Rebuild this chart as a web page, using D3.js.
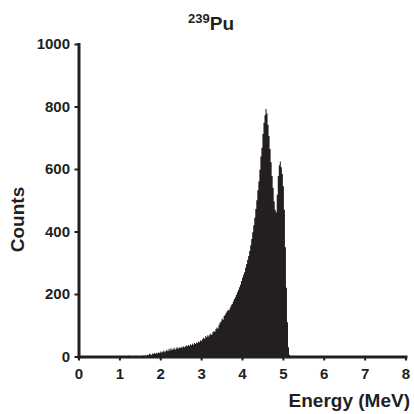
<!DOCTYPE html>
<html>
<head>
<meta charset="utf-8">
<script src="https://cdn.jsdelivr.net/npm/d3@7"></script>
<style>
  body { margin: 0; background: #fff; }
  svg { display: block; font-family: "Liberation Sans", Arial, sans-serif; }
  .axis text { font-size: 15px; font-weight: bold; fill: #231f20; }
  .axis path, .axis line { stroke: #231f20; }
</style>
</head>
<body>
<div id="chart"></div>
<script>
// histogram of alpha energies, bins 0.025 MeV wide starting at binStart
var binStart = 1.2;
var binWidth = 0.025;
var counts = [
  0, 3, 2, 0, 0, 1, 0, 0, 2, 0, 1, 0,
  0, 2, 0, 3, 1, 4, 2, 6, 4, 9, 7, 5,
  10, 8, 11, 9, 12, 10, 14, 11, 16, 13, 15, 19,
  14, 18, 22, 17, 24, 19, 27, 21, 23, 28, 22, 26,
  30, 25, 29, 27, 31, 28, 33, 30, 32, 35, 33, 37,
  34, 39, 36, 41, 38, 43, 40, 45, 43, 48, 46, 52,
  50, 56, 60, 57, 66, 62, 68, 64, 70, 73, 69, 78,
  82, 79, 88, 93, 90, 101, 108, 112, 122, 118, 130, 134,
  140, 145, 150, 148, 157, 164, 168, 176, 184, 190, 197, 206,
  213, 222, 230, 242, 252, 262, 270, 284, 296, 310, 322, 338,
  356, 376, 398, 420, 444, 472, 500, 532, 560, 598, 640, 668,
  712, 748, 772, 792, 778, 742, 706, 664, 622, 578, 540, 496,
  470, 462, 518, 578, 612, 624, 606, 584, 545, 470, 350, 220,
  110, 30, 6
];
var xTicks = [0, 1, 2, 3, 4, 5, 6, 7, 8];
var yTicks = [0, 200, 400, 600, 800, 1000];

var svgWidth = 414;
var svgHeight = 414;
var margin = { top: 44, right: 8.5, bottom: 57.5, left: 78.5 };
var width = svgWidth - margin.left - margin.right;
var height = svgHeight - margin.top - margin.bottom;

var svg = d3.select("#chart")
    .append("svg")
    .attr("width", svgWidth)
    .attr("height", svgHeight);

var chartGroup = svg.append("g")
    .attr("transform", `translate(${margin.left},${margin.top})`);

var xScale = d3.scaleLinear().domain([0, 8]).range([0, width]);
var yScale = d3.scaleLinear().domain([0, 1000]).range([height, 0]);

// step points: each bin start, plus a closing point at the last bin's end
var steps = counts.map(function(c, i) {
    return { x: binStart + i * binWidth, count: c };
});
steps.push({ x: binStart + counts.length * binWidth, count: 0 });

var histArea = d3.area()
    .curve(d3.curveStepAfter)
    .x(d => xScale(d.x))
    .y0(yScale(0))
    .y1(d => yScale(d.count));

chartGroup.append("path")
    .datum(steps)
    .attr("d", histArea)
    .attr("fill", "#231f20");

var xAxis = chartGroup.append("g")
    .classed("axis", true)
    .attr("transform", `translate(0,${height})`)
    .call(d3.axisBottom(xScale).tickValues(xTicks).tickSize(4).tickSizeOuter(0).tickPadding(8));

var yAxis = chartGroup.append("g")
    .classed("axis", true)
    .call(d3.axisLeft(yScale).tickValues(yTicks).tickFormat(d3.format("d"))
        .tickSize(4).tickSizeOuter(0).tickPadding(4.5));

chartGroup.selectAll(".axis .domain").attr("stroke-width", 3).attr("stroke-linecap", "square");
chartGroup.selectAll(".axis .tick line").attr("stroke-width", 2);

// labels
var title = svg.append("text")
    .attr("x", 211)
    .attr("y", 30)
    .attr("text-anchor", "middle")
    .style("font-weight", "bold")
    .style("fill", "#231f20");
title.append("tspan")
    .attr("dy", "-7")
    .style("font-size", "13px")
    .text("239");
title.append("tspan")
    .attr("dy", "7")
    .style("font-size", "19px")
    .text("Pu");

svg.append("text")
    .attr("transform", "rotate(-90)")
    .attr("x", -219.5)
    .attr("y", 24)
    .attr("text-anchor", "middle")
    .style("font-size", "19px")
    .style("font-weight", "bold")
    .style("fill", "#231f20")
    .text("Counts");

svg.append("text")
    .attr("x", 410)
    .attr("y", 406.5)
    .attr("text-anchor", "end")
    .style("font-size", "19px")
    .style("font-weight", "bold")
    .style("fill", "#231f20")
    .text("Energy (MeV)");
</script>
</body>
</html>
